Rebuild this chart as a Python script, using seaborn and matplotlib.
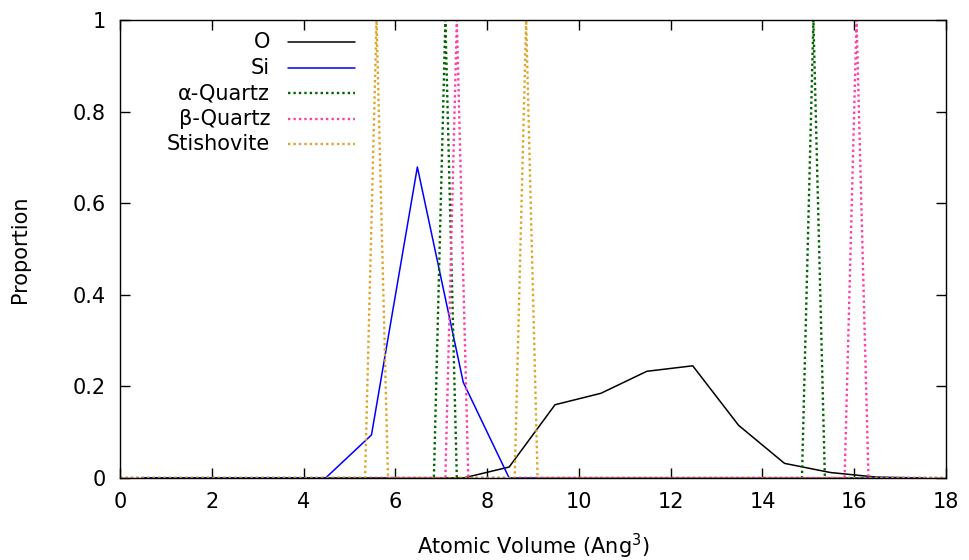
import matplotlib
matplotlib.use('Agg')
import matplotlib.pyplot as plt
import seaborn as sns
import pandas as pd

# ─── DATA ─────────────────────────────────────────────────────────────────────
# per-species histograms (bin centres, Ang^3)
vol_bins = [0.48, 1.48, 2.48, 3.48, 4.48, 5.48, 6.48, 7.48, 8.48,
            9.48, 10.48, 11.48, 12.48, 13.48, 14.48, 15.48, 16.48, 17.48]
o_prop   = [0, 0, 0, 0, 0, 0, 0, 0, 0.024,
            0.160, 0.185, 0.233, 0.245, 0.115, 0.032, 0.012, 0.002, 0]
si_prop  = [0, 0, 0, 0, 0, 0.094, 0.679, 0.209, 0,
            0, 0, 0, 0, 0, 0, 0, 0, 0]

# crystal reference peaks
alpha_x = [0, 6.84, 7.09, 7.34, 14.86, 15.11, 15.36, 18]
alpha_y = [0, 0, 1, 0, 0, 1, 0, 0]
beta_x  = [0, 7.09, 7.34, 7.59, 15.79, 16.05, 16.31, 18]
beta_y  = [0, 0, 1, 0, 0, 1, 0, 0]
stish_x = [0, 5.34, 5.59, 5.84, 8.60, 8.85, 9.10, 18]
stish_y = [0, 0, 1, 0, 0, 1, 0, 0]

labels = ['O', 'Si', 'α-Quartz', 'β-Quartz', 'Stishovite']
colors = ['#000000', '#0000ff', '#006400', '#ff3fa8', '#e0a526']

# ─── PLOT ─────────────────────────────────────────────────────────────────────
sns.set_style('ticks', {'axes.edgecolor': 'black', 'xtick.color': 'black',
                        'ytick.color': 'black', 'text.color': 'black',
                        'axes.labelcolor': 'black'})
plt.rcParams['font.family'] = ['DejaVu Sans']

fig = plt.figure(figsize=(9.7, 5.6), dpi=100)
ax = fig.add_axes([0.1237, 0.1464, 0.8516, 0.8179])

dotted = (0, (1, 1.3))
series = [
    (vol_bins, o_prop, '-', 1.1),
    (vol_bins, si_prop, '-', 1.1),
    (alpha_x, alpha_y, dotted, 1.7),
    (beta_x, beta_y, dotted, 1.7),
    (stish_x, stish_y, dotted, 1.7),
]
for (xs, ys, ls, lw), lab, col in zip(series, labels, colors):
    df = pd.DataFrame({'x': xs, 'y': ys})
    sns.lineplot(data=df, x='x', y='y', ax=ax, color=col, lw=lw,
                 linestyle=ls, sort=False, estimator=None, legend=False)

ax.set_xlim(0, 18)
ax.set_ylim(0, 1)
ax.set_xticks(range(0, 19, 2))
ax.set_yticks([0, 0.2, 0.4, 0.6, 0.8, 1])
ax.set_yticklabels(['0', '0.2', '0.4', '0.6', '0.8', '1'])
ax.tick_params(direction='in', top=True, right=True, length=7, width=1,
               labelsize=15, pad=10, colors='black')
for sp in ax.spines.values():
    sp.set_linewidth(1.0)
    sp.set_color('black')

ax.set_xlabel('Atomic Volume (Ang$^3$)', fontsize=15, labelpad=14)
ax.set_ylabel('Proportion', fontsize=15, labelpad=31)

# gnuplot-style key: right-justified text, sample on the right
for i, ((xs, ys, ls, lw), lab, col) in enumerate(zip(series, labels, colors)):
    yk = 0.951 - i * 0.0555
    ax.text(0.1816, yk, lab, transform=ax.transAxes, ha='right', va='center',
            fontsize=15)
    ax.plot([0.2034, 0.2845], [yk, yk], transform=ax.transAxes, color=col,
            lw=lw, linestyle=ls)

plt.savefig('out.png', dpi=100)
plt.close()
